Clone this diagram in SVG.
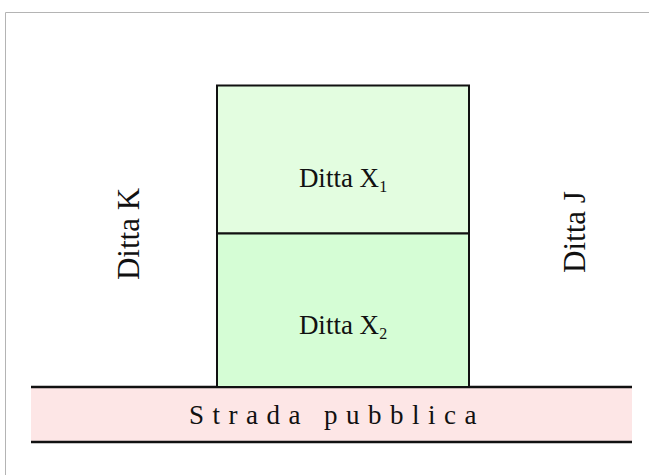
<svg xmlns="http://www.w3.org/2000/svg" width="649" height="475" viewBox="0 0 649 475">
<style>
.lbl{font-family:"Liberation Serif","Times New Roman",serif;font-size:27px;fill:#111;}
.sub{font-size:16px;}
.side{font-size:31px;}
.edge{stroke:#111;stroke-width:2.5;fill:none;}
</style>
<rect x="0" y="0" width="649" height="475" fill="#fff"/>
<path d="M5.5,475 V12.5 H649" fill="none" stroke="#b4b4b4" stroke-width="1"/>
<g id="road">
<rect x="31" y="387" width="601" height="55" fill="#fde6e6"/>
<line class="edge" x1="31" y1="387" x2="632" y2="387"/>
<line class="edge" x1="31" y1="442" x2="632" y2="442"/>
<text class="lbl" x="337" y="424" text-anchor="middle" letter-spacing="8.5" font-size="26">Strada pubblica</text>
</g>
<g id="x1">
<rect x="217" y="85.5" width="252" height="148" fill="#e3fde0" stroke="#111" stroke-width="2"/>
<text class="lbl" x="343" y="187" text-anchor="middle">Ditta X<tspan class="sub" dy="5">1</tspan></text>
</g>
<g id="x2">
<path d="M217,386 V233.5 H469 V386" fill="#d5fdd5" stroke="#111" stroke-width="2"/>
<text class="lbl" x="343" y="334" text-anchor="middle">Ditta X<tspan class="sub" dy="5">2</tspan></text>
</g>
<g id="k">
<text class="lbl side" transform="translate(139,234) rotate(-90)" text-anchor="middle">Ditta K</text>
</g>
<g id="j">
<text class="lbl side" transform="translate(585,232) rotate(-90)" text-anchor="middle">Ditta J</text>
</g>
</svg>
